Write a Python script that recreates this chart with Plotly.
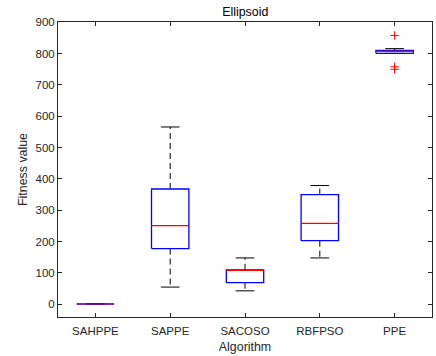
import plotly.graph_objects as go

# Summary statistics of the fitness value per algorithm
algorithms = ["SAHPPE", "SAPPE", "SACOSO", "RBFPSO", "PPE"]
lower_whisker = [1.0, 55, 43, 148, 801]
q1 = [1.0, 178, 69, 203, 801]
median = [1.5, 251, 108, 258, 807]
q3 = [2.0, 368, 110, 350, 810]
upper_whisker = [2.0, 566, 148, 379, 816]

# Outliers (algorithm, value)
outlier_alg = ["PPE", "PPE", "PPE"]
outlier_val = [858, 758, 750]

y_ticks = [0, 100, 200, 300, 400, 500, 600, 700, 800, 900]

BOX_HALF = 0.25
CAP_HALF = 0.125
AXIS_COLOR = "#262626"
FONT = "Liberation Sans, Arial, sans-serif"

fig = go.Figure()

for i, name in enumerate(algorithms):
    x = i + 1
    # whiskers (dashed black)
    fig.add_trace(go.Scatter(
        x=[x, x, None, x, x], y=[q3[i], upper_whisker[i], None, q1[i], lower_whisker[i]],
        mode="lines", line=dict(color="black", width=1, dash="6px,4px"),
        hoverinfo="skip", showlegend=False))
    # whisker caps
    fig.add_trace(go.Scatter(
        x=[x - CAP_HALF, x + CAP_HALF, None, x - CAP_HALF, x + CAP_HALF],
        y=[upper_whisker[i], upper_whisker[i], None, lower_whisker[i], lower_whisker[i]],
        mode="lines", line=dict(color="black", width=1),
        hoverinfo="skip", showlegend=False))
    # box
    fig.add_trace(go.Scatter(
        x=[x - BOX_HALF, x + BOX_HALF, x + BOX_HALF, x - BOX_HALF, x - BOX_HALF],
        y=[q1[i], q1[i], q3[i], q3[i], q1[i]],
        mode="lines", line=dict(color="#0000ff", width=1.3),
        hoverinfo="skip", showlegend=False))
    # median
    fig.add_trace(go.Scatter(
        x=[x - BOX_HALF, x + BOX_HALF], y=[median[i], median[i]],
        mode="lines", line=dict(color="#ff0000", width=1.3),
        opacity=0.6 if name == "SAHPPE" else 1.0,
        hoverinfo="skip", showlegend=False))

fig.add_trace(go.Scatter(
    x=[algorithms.index(a) + 1 for a in outlier_alg], y=outlier_val,
    mode="markers",
    marker=dict(symbol="cross-thin", size=6, line=dict(color="#ff0000", width=1)),
    hoverinfo="skip", showlegend=False))

fig.update_layout(
    width=436, height=356,
    margin=dict(l=57.5, r=3.5, t=22, b=39.3),
    paper_bgcolor="white", plot_bgcolor="white",
    font=dict(family=FONT, size=11.5, color=AXIS_COLOR),
    title=dict(text="Ellipsoid", x=0.5625, xanchor="center", y=0.966, yanchor="middle",
               font=dict(family=FONT, size=12.4, color="black")),
    xaxis=dict(
        range=[0.5, 5.5], tickvals=[1, 2, 3, 4, 5], ticktext=algorithms,
        title=dict(text="Algorithm", standoff=6, font=dict(size=12.4)),
        ticklabelstandoff=3,
        showgrid=False, zeroline=False, showline=True, linecolor=AXIS_COLOR, linewidth=1,
        mirror="ticks", ticks="inside", ticklen=4, tickcolor=AXIS_COLOR),
    yaxis=dict(
        range=[-40.5, 901], tickvals=y_ticks,
        title=dict(text="Fitness value", standoff=5, font=dict(size=12.4)),
        showgrid=False, zeroline=False, showline=True, linecolor=AXIS_COLOR, linewidth=1,
        mirror="ticks", ticks="inside", ticklen=4, tickcolor=AXIS_COLOR),
)

fig.write_html("out.html")
